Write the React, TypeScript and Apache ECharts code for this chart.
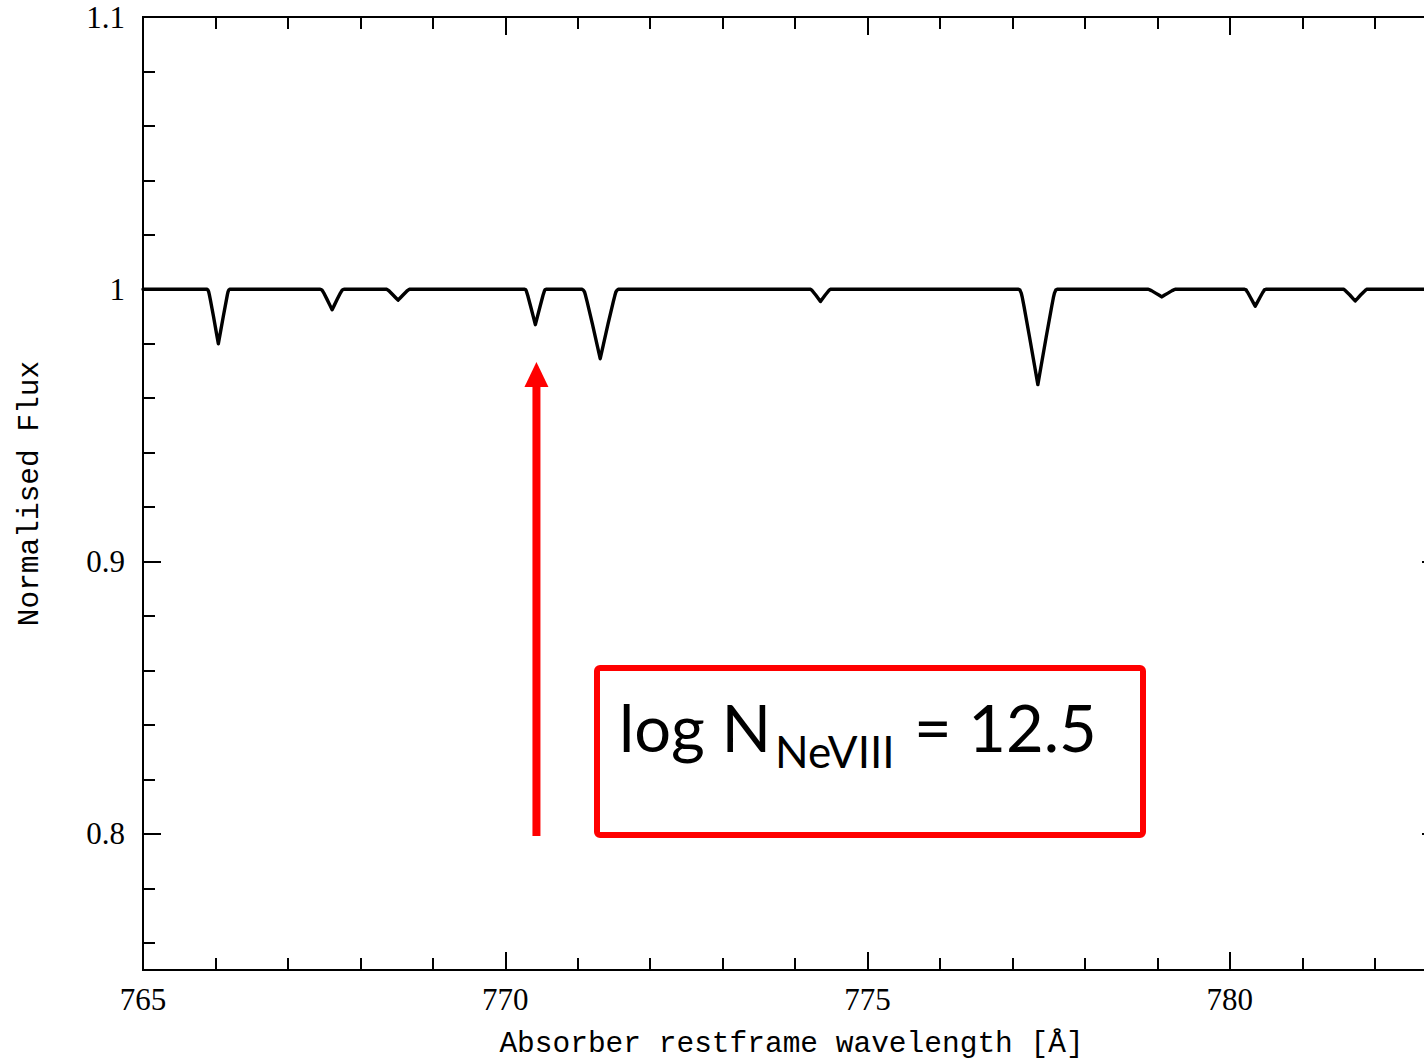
import React, { useEffect, useRef } from "react";
import * as echarts from "echarts";

// Spectrum samples (continuum = 1, absorption dips)
const wavelength: number[] = [
  765.0,
  765.883, 765.895, 765.905, 765.914, 765.928, 765.973, 766.013, 766.04, 766.067, 766.108, 766.153, 766.166, 766.175, 766.186, 766.198,
  767.447, 767.46, 767.471, 767.48, 767.494, 767.54, 767.582, 767.61, 767.638, 767.68, 767.726, 767.74, 767.749, 767.76, 767.773,
  768.352, 768.365, 768.376, 768.386, 768.4, 768.448, 768.491, 768.52, 768.549, 768.592, 768.64, 768.654, 768.664, 768.675, 768.688,
  770.268, 770.279, 770.289, 770.297, 770.31, 770.352, 770.39, 770.415, 770.44, 770.478, 770.52, 770.533, 770.541, 770.551, 770.562,
  771.058, 771.077, 771.094, 771.108, 771.13, 771.202, 771.267, 771.31, 771.353, 771.418, 771.49, 771.512, 771.526, 771.543, 771.562,
  774.203, 774.214, 774.224, 774.232, 774.245, 774.287, 774.325, 774.35, 774.375, 774.413, 774.455, 774.468, 774.476, 774.486, 774.497,
  777.082, 777.103, 777.121, 777.136, 777.159, 777.235, 777.304, 777.35, 777.396, 777.465, 777.541, 777.564, 777.579, 777.597, 777.618,
  778.861, 778.876, 778.889, 778.9, 778.918, 778.975, 779.026, 779.06, 779.094, 779.146, 779.203, 779.22, 779.231, 779.244, 779.26,
  780.203, 780.214, 780.224, 780.232, 780.245, 780.287, 780.325, 780.35, 780.375, 780.413, 780.455, 780.468, 780.476, 780.486, 780.497,
  781.557, 781.57, 781.582, 781.591, 781.606, 781.656, 781.7, 781.73, 781.76, 781.804, 781.854, 781.869, 781.878, 781.89, 781.903,
  782.9,
];

const flux: number[] = [
  1.0,
  1.0, 0.9998, 0.9992, 0.9982, 0.9964, 0.99, 0.984, 0.98, 0.984, 0.99, 0.9964, 0.9982, 0.9992, 0.9998, 1.0,
  1.0, 0.9999, 0.9997, 0.9993, 0.9987, 0.9963, 0.994, 0.9925, 0.994, 0.9963, 0.9987, 0.9993, 0.9997, 0.9999, 1.0,
  1.0, 1.0, 0.9998, 0.9996, 0.9993, 0.998, 0.9968, 0.996, 0.9968, 0.998, 0.9993, 0.9996, 0.9998, 1.0, 1.0,
  1.0, 0.9999, 0.9995, 0.9988, 0.9977, 0.9935, 0.9896, 0.987, 0.9896, 0.9935, 0.9977, 0.9988, 0.9995, 0.9999, 1.0,
  1.0, 0.9997, 0.999, 0.9977, 0.9954, 0.9873, 0.9796, 0.9745, 0.9796, 0.9873, 0.9954, 0.9977, 0.999, 0.9997, 1.0,
  1.0, 1.0, 0.9998, 0.9996, 0.9992, 0.9978, 0.9964, 0.9955, 0.9964, 0.9978, 0.9992, 0.9996, 0.9998, 1.0, 1.0,
  1.0, 0.9997, 0.9986, 0.9969, 0.9937, 0.9825, 0.972, 0.965, 0.972, 0.9825, 0.9937, 0.9969, 0.9986, 0.9997, 1.0,
  1.0, 1.0, 0.9999, 0.9997, 0.9995, 0.9986, 0.9978, 0.9972, 0.9978, 0.9986, 0.9995, 0.9997, 0.9999, 1.0, 1.0,
  1.0, 0.9999, 0.9998, 0.9994, 0.9989, 0.9969, 0.995, 0.9938, 0.995, 0.9969, 0.9989, 0.9994, 0.9998, 0.9999, 1.0,
  1.0, 1.0, 0.9998, 0.9996, 0.9992, 0.9979, 0.9966, 0.9957, 0.9966, 0.9979, 0.9992, 0.9996, 0.9998, 1.0, 1.0,
  1.0,
];

const xMajorTicks = [765, 770, 775, 780];
const xMinorTicks = [766, 767, 768, 769, 771, 772, 773, 774, 776, 777, 778, 779, 781, 782];
const yMajorTicks = [0.8, 0.9, 1, 1.1];
const yMinorTicks = [0.76, 0.78, 0.82, 0.84, 0.86, 0.88, 0.92, 0.94, 0.96, 0.98, 1.02, 1.04, 1.06, 1.08];

const xRange = [765, 782.9];
const yRange = [0.75, 1.1];

const xTitle = "Absorber restframe wavelength [Å]";
const yTitle = "Normalised Flux";

// Annotation (arrow pointing at the Ne VIII feature)
const arrowWavelength = 770.43;
const arrowTipFlux = 0.9733;
const arrowBaseFlux = 0.7992;

const labelMain = "log N";
const labelSub = "NeVIII";
const labelValue = "= 12.5";

const numFont = "'Liberation Serif', 'DejaVu Serif', serif";
const monoFont = "'Courier New', 'Liberation Mono', monospace";
const boxFont = "Lato, 'Open Sans', sans-serif";

function xAxisDef(position: "top" | "bottom", ticks: number[], len: number, withLabels: boolean) {
  const a: any = {
    type: "value",
    gridIndex: 0,
    position,
    min: xRange[0],
    max: xRange[1],
    axisLine: { show: true, onZero: false, lineStyle: { color: "#000", width: 2 } },
    axisTick: { show: true, inside: true, length: len, customValues: ticks, lineStyle: { color: "#000", width: 2 } },
    axisLabel: withLabels
      ? {
          show: true,
          customValues: xMajorTicks,
          margin: 14,
          color: "#000",
          fontFamily: numFont,
          fontSize: 31,
          formatter: (v: number) => String(v),
        }
      : { show: false },
    splitLine: { show: false },
  };
  if (withLabels) {
    a.name = xTitle;
    a.nameLocation = "middle";
    a.nameGap = 59;
    a.nameTextStyle = { color: "#000", fontFamily: monoFont, fontSize: 29.5 };
  }
  return a;
}

function yAxisDef(position: "left" | "right", ticks: number[], len: number, withLabels: boolean) {
  const a: any = {
    type: "value",
    gridIndex: 0,
    position,
    min: yRange[0],
    max: yRange[1],
    axisLine: { show: true, onZero: false, lineStyle: { color: "#000", width: 2 } },
    axisTick: { show: true, inside: true, length: len, customValues: ticks, lineStyle: { color: "#000", width: 2 } },
    axisLabel: withLabels
      ? {
          show: true,
          customValues: yMajorTicks,
          margin: 18,
          color: "#000",
          fontFamily: numFont,
          fontSize: 31,
          formatter: (v: number) => String(+Number(v).toFixed(2)),
        }
      : { show: false },
    splitLine: { show: false },
  };
  if (withLabels) {
    a.name = yTitle;
    a.nameLocation = "middle";
    a.nameGap = 98;
    a.nameTextStyle = { color: "#000", fontFamily: monoFont, fontSize: 29.5 };
  }
  return a;
}

export default function App() {
  const ref = useRef<HTMLDivElement>(null);

  useEffect(() => {
    if (!ref.current) return;
    const chart = echarts.init(ref.current, undefined, { renderer: "svg" });
    const data = wavelength.map((w, i) => [w, flux[i]]);

    chart.setOption({
      animation: false,
      backgroundColor: "#fff",
      grid: {
        left: 143,
        top: 17,
        width: 1297,
        height: 953,
        containLabel: false,
        outerBoundsMode: "none",
      },
      xAxis: [
        xAxisDef("bottom", xMajorTicks, 18, true),
        xAxisDef("bottom", xMinorTicks, 12, false),
        xAxisDef("top", xMajorTicks, 18, false),
        xAxisDef("top", xMinorTicks, 12, false),
      ],
      yAxis: [
        yAxisDef("left", yMajorTicks, 18, true),
        yAxisDef("left", yMinorTicks, 12, false),
        yAxisDef("right", yMajorTicks, 18, false),
        yAxisDef("right", yMinorTicks, 12, false),
      ],
      series: [
        {
          type: "line",
          xAxisIndex: 0,
          yAxisIndex: 0,
          data,
          showSymbol: false,
          symbol: "none",
          clip: true,
          smooth: false,
          lineStyle: { color: "#000", width: 3.4, join: "round", cap: "round" },
        },
      ],
    });

    const finder = { xAxisIndex: 0, yAxisIndex: 0 };
    const tip = chart.convertToPixel(finder, [arrowWavelength, arrowTipFlux]) as number[];
    const base = chart.convertToPixel(finder, [arrowWavelength, arrowBaseFlux]) as number[];
    const ax = tip[0];
    const headH = 25;
    const headW = 24;

    chart.setOption({
      graphic: [
        {
          type: "rect",
          shape: { x: ax - 4, y: tip[1] + headH - 2, width: 8, height: base[1] - tip[1] - headH + 2 },
          style: { fill: "#ff0000" },
          silent: true,
        },
        {
          type: "polygon",
          shape: {
            points: [
              [ax - headW / 2, tip[1] + headH],
              [ax + headW / 2, tip[1] + headH],
              [ax, tip[1]],
            ],
          },
          style: { fill: "#ff0000" },
          silent: true,
        },
        {
          type: "rect",
          shape: { x: 597, y: 668, width: 546, height: 167, r: 3 },
          style: { fill: "#fff", stroke: "#ff0000", lineWidth: 6 },
          silent: true,
        },
        {
          type: "text",
          x: 619,
          y: 727,
          style: { text: labelMain, fill: "#000", fontFamily: boxFont, fontSize: 65, align: "left", verticalAlign: "middle" },
          silent: true,
        },
        {
          type: "text",
          x: 775,
          y: 751,
          style: { text: labelSub, fill: "#000", fontFamily: boxFont, fontSize: 44, align: "left", verticalAlign: "middle" },
          silent: true,
        },
        {
          type: "text",
          x: 914,
          y: 727,
          style: { text: labelValue, fill: "#000", fontFamily: boxFont, fontSize: 65, align: "left", verticalAlign: "middle" },
          silent: true,
        },
      ],
    });

    return () => chart.dispose();
  }, []);

  return (
    <div
      ref={ref}
      style={{ position: "absolute", left: 0, top: 0, width: 1424, height: 1061, overflow: "hidden" }}
    />
  );
}
